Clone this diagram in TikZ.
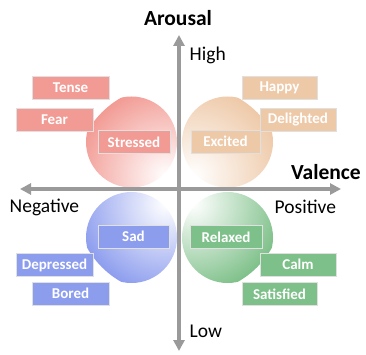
\documentclass[tikz,border=0pt]{standalone}
\usepackage{fontspec}
\setmainfont{Carlito}
\usetikzlibrary{arrows.meta,calc}
\definecolor{cR}{HTML}{F29B94}
\definecolor{cO}{HTML}{EEC9A8}
\definecolor{cB}{HTML}{8D9DEE}
\definecolor{cG}{HTML}{7EC089}
\definecolor{axgray}{HTML}{9A9A9A}
\begin{document}
\begin{tikzpicture}[x=1pt,y=-1pt,
  axis/.style={draw=axgray, line width=3.5pt, {Triangle[width=11pt,length=11pt]}-{Triangle[width=11pt,length=11pt]}},
  emo/.style={draw=black!12, line width=0.6pt, minimum width=#1, minimum height=23pt, inner sep=0pt,
    font=\fontsize{15}{15}\selectfont\bfseries, text=white},
  lab/.style={font=\fontsize{19.5}{20}\selectfont, inner sep=0pt},
  ttl/.style={font=\fontsize{21.5}{22}\selectfont\bfseries, inner sep=0pt}]
\useasboundingbox (0,0) rectangle (366,355);

% quadrant circles
\foreach \cx/\cy/\dx/\dy/\col in {131.5/142/34/34/cR, 227.5/142/-34/34/cO, 131.5/237.5/34/-34/cB, 227.5/237.5/-34/-34/cG}{
  \begin{scope}
    \clip (\cx,\cy) circle (45.5);
    \shade[inner color=white, outer color=\col] (\cx+\dx,\cy+\dy) circle (90);
  \end{scope}
}

% axes
\coordinate (top) at (179,35);
\coordinate (bot) at (179,351);
\coordinate (lft) at (20,189);
\coordinate (rgt) at (341,189);
\draw[axis] (bot) -- (top);
\draw[axis] (lft) -- (rgt);

% axis labels
\node[ttl, anchor=base] (arousal) at (178,26) {Arousal};
\node[ttl, anchor=base] (valence) at (326,180) {Valence};
\node[lab, anchor=base west] (high) at (189.5,61) {High};
\node[lab, anchor=base west] (low) at (189.5,337) {Low};
\node[lab, anchor=base west] (neg) at (9.5,212) {Negative};
\node[lab, anchor=base west] (pos) at (274.5,213) {Positive};

% emotion boxes
\node[emo=77pt, fill=cR] (tense) at (70.5,87.5) {Tense};
\node[emo=77pt, fill=cR] (fear) at (54.5,120) {Fear};
\node[emo=72pt, fill=cR] (stressed) at (134,142) {Stressed};
\node[emo=75pt, fill=cO] (happy) at (279.5,87.5) {Happy};
\node[emo=76pt, fill=cO] (delighted) at (298,120) {Delighted};
\node[emo=69pt, fill=cO] (excited) at (225.5,141.5) {Excited};
\node[emo=71pt, fill=cB] (sad) at (133.5,236.5) {Sad};
\node[emo=77pt, fill=cB] (depressed) at (54.5,265) {Depressed};
\node[emo=77pt, fill=cB] (bored) at (70.5,293.5) {Bored};
\node[emo=72pt, fill=cG] (relaxed) at (226,237) {Relaxed};
\node[emo=76pt, fill=cG] (calm) at (298,264.5) {Calm};
\node[emo=75pt, fill=cG] (satisfied) at (279.5,294) {Satisfied};
\end{tikzpicture}
\end{document}
